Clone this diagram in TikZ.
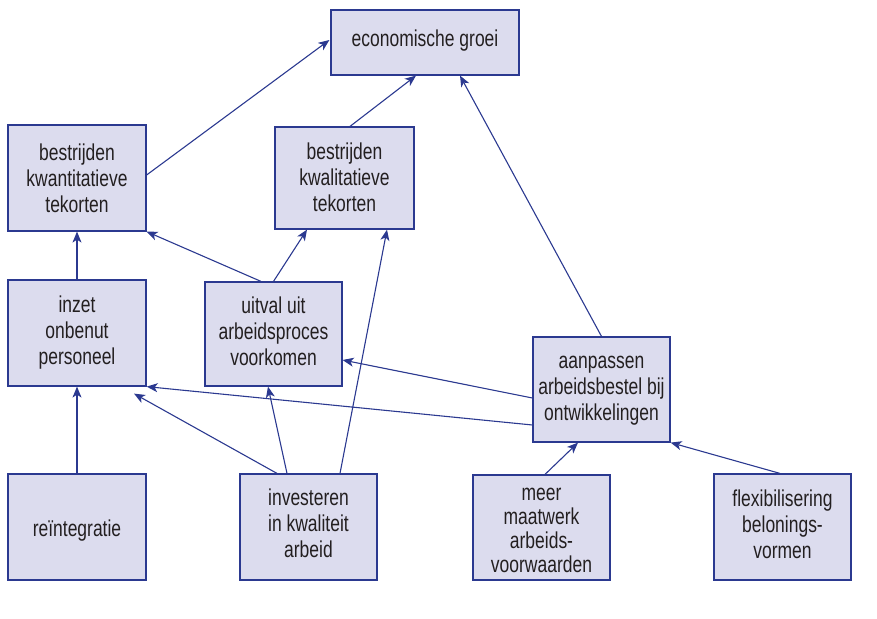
\documentclass[tikz,border=0pt]{standalone}
\usepackage{fontspec}
\setmainfont{Liberation Sans}[FakeStretch=0.76]
\usetikzlibrary{arrows.meta}
\definecolor{boxfill}{HTML}{DCDCEE}
\definecolor{boxline}{HTML}{2B3990}
\definecolor{txt}{HTML}{231F20}
\newcommand\bxtext[3][1]{\raisebox{#2}[\height][\depth]{\renewcommand\arraystretch{#1}\begin{tabular}{@{}c@{}}#3\end{tabular}}}
\tikzset{
  box/.style={draw=boxline, fill=boxfill, line width=1.2pt, text=txt,
    font=\fontsize{23}{26}\selectfont, inner sep=0pt},
  conn/.style={draw=boxline, line width=1.1pt, -{Stealth[length=11pt,width=9pt,inset=3pt]}}
}
\begin{document}
\begin{tikzpicture}[x=1pt,y=-1pt]
\useasboundingbox (0,0) rectangle (877,618);
\node[box, minimum width=188pt, minimum height=65pt] (econ) at (425,42.5) {\bxtext{1pt}{economische groei}};
\node[box, minimum width=138pt, minimum height=106pt] (kwant) at (77,178) {\bxtext{-3.3pt}{bestrijden\\kwantitatieve\\tekorten}};
\node[box, minimum width=139pt, minimum height=102pt] (kwal) at (344.5,178) {\bxtext{-2pt}{bestrijden\\kwalitatieve\\tekorten}};
\node[box, minimum width=138pt, minimum height=106pt] (inzet) at (77,333) {\bxtext{0pt}{inzet\\onbenut\\personeel}};
\node[box, minimum width=137pt, minimum height=104pt] (uitval) at (273.5,334) {\bxtext{0pt}{uitval uit\\arbeidsproces\\voorkomen}};
\node[box, minimum width=137pt, minimum height=105pt] (aanp) at (601.5,389.5) {\bxtext{0pt}{aanpassen\\arbeidsbestel bij\\ontwikkelingen}};
\node[box, minimum width=138pt, minimum height=106pt] (rein) at (77,527) {\bxtext{-3.8pt}{reïntegratie}};
\node[box, minimum width=137pt, minimum height=106pt] (inv) at (308.5,527) {\bxtext{1pt}{investeren\\in kwaliteit\\arbeid}};
\node[box, minimum width=137pt, minimum height=105pt] (meer) at (541.5,527.5) {\bxtext[0.93]{-4pt}{meer\\maatwerk\\arbeids-\\voorwaarden}};
\node[box, minimum width=137pt, minimum height=106pt] (flex) at (782.5,527) {\bxtext{0pt}{flexibilisering\\belonings-\\vormen}};

\draw[conn] ([yshift=3pt]kwant.east) -- ([yshift=2.5pt,xshift=-1pt]econ.west);
\draw[conn] ([xshift=5.5pt]kwal.north) -- ([xshift=-9pt]econ.south);
\draw[conn] (aanp.north) -- ([xshift=35pt]econ.south);
\draw[conn] (inzet.north) -- (kwant.south);
\draw[conn] ([xshift=-12.5pt]uitval.north) -- (kwant.south east);
\draw[conn] (uitval.north) -- ([xshift=-37.5pt]kwal.south);
\draw[conn] ([xshift=31.5pt]inv.north) -- ([xshift=42.5pt]kwal.south);
\draw[conn] ([yshift=-8.5pt]aanp.west) -- ([yshift=-26pt]uitval.east);
\draw[conn] ([yshift=-35.5pt]aanp.west) -- (inzet.south east);
\draw[conn] ([xshift=-31.5pt]inv.north) -- ([xshift=57pt,yshift=-7pt]inzet.south);
\draw[conn] ([xshift=-21.5pt]inv.north) -- ([xshift=-5.5pt]uitval.south);
\draw[conn] (rein.north) -- (inzet.south);
\draw[conn] ([xshift=3.5pt]meer.north) -- ([xshift=-23.5pt]aanp.south);
\draw[conn] ([xshift=-2.5pt]flex.north) -- (aanp.south east);
\end{tikzpicture}
\end{document}
